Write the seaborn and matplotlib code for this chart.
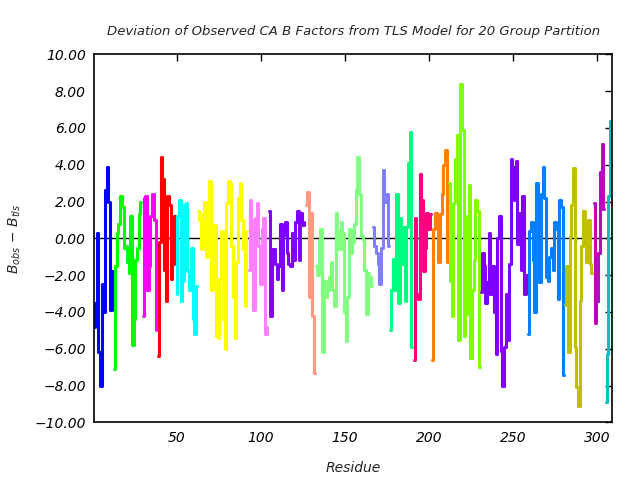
import numpy as np
import pandas as pd
import matplotlib
matplotlib.use("Agg")
import matplotlib.pyplot as plt
import seaborn as sns

# =====================================================
# DATA
# =====================================================

group_colors = [
    "#0000ff", "#00ff00", "#ff00ff", "#ff0000", "#00ffff",
    "#ffff00", "#ff80ff", "#8000ff", "#ff9980", "#80ff80",
    "#8080ff", "#00ff80", "#ff0080", "#ff8000", "#80ff00",
    "#8000ff", "#0080ff", "#c0c000", "#c000c0", "#00c0c0",
]

# first residue of each TLS group
group_starts = [1, 13, 30, 39, 50, 63, 93, 105, 127, 133,
                167, 177, 191, 202, 212, 231, 259, 281, 298, 305]

group_values = [
    [-4.8, -3.5, 0.3, -6.2, -8.0, -2.5, -4.0, 2.6, 3.9, 2.0, -3.9, -1.8],
    [-7.1, -1.5, 0.3, 0.8, 2.3, 1.7, -0.5, -0.4, -1.3, -1.9, 1.2, -5.8, -4.4, -1.2, -0.5, 1.3, 2.0],
    [-4.2, 2.2, 2.3, -2.8, -1.5, 1.2, 2.4, 1.0, -5.0],
    [-6.4, -0.2, 4.4, 3.2, -1.7, -3.4, 2.3, 1.8, -2.2, -1.4, 1.2],
    [-3.0, 1.2, 2.1, -3.4, -2.3, 1.8, 1.9, -1.8, -2.8, -0.5, -4.4, -5.2, -2.6],
    [1.5, 1.0, -0.6, 1.3, 2.0, -1.0, 2.0, 3.1, -2.8, -1.4, 0.7, -5.3, -5.4, -2.2, 0.4,
     -4.4, -6.0, 1.9, 3.1, 3.0, -0.4, -3.2, -5.4, -1.3, 2.2, 3.0, 1.0, -0.6, -3.7, 0.4],
    [-1.7, 2.1, 1.0, -3.9, 1.1, 1.9, -0.4, -2.5, 0.5, 1.1, -5.2, -4.8],
    [1.5, -4.2, -0.6, -0.6, -1.4, -2.2, -1.5, 0.8, -2.8, 0.2, 0.9, -0.8, -1.4, -1.5,
     0.3, -1.2, 0.9, 1.5, -1.2, 1.4, 0.7, 0.9],
    [1.8, 2.5, -3.2, 1.4, -4.2, -7.3],
    [-1.5, -2.0, -0.1, 0.5, -6.2, -2.3, -3.2, -2.8, -2.1, -1.3, -2.8, -3.7, 1.4, 0.4,
     -0.6, 0.9, 0.3, -4.0, -5.6, -3.2, 0.5, -0.8, -0.2, 0.8, 2.6, 4.4, 2.4, 0.1, -0.1,
     -1.7, -4.1, -1.9, -2.1, -2.6],
    [0.6, -0.4, -0.8, -1.4, -2.5, -0.5, 3.7, 2.0, 2.4, -0.4],
    [-5.0, -2.8, -1.1, -2.8, 2.4, -3.5, 1.1, -1.4, 0.6, -3.4, 0.6, 4.1, 5.8, -5.9],
    [-6.6, 1.1, -3.0, -3.3, 3.5, 2.1, -1.8, -0.5, 1.4, 0.5, 1.3],
    [-6.6, 0.5, 1.4, 1.0, -1.3, 1.3, 2.4, 4.0, 4.8, -1.3],
    [3.0, -2.3, -4.2, 1.9, 4.3, 5.6, -5.5, 8.4, 5.9, -5.3, -4.1, 1.2, 2.9, -6.5, -2.8,
     -1.2, 2.1, 1.5, -7.0],
    [-2.9, -0.8, -1.5, -3.5, -2.4, 0.3, -3.0, -1.5, -4.0, -6.3, 0.0, 1.2, -6.1, -8.0,
     -5.9, -3.0, -5.5, -1.4, 4.3, 3.9, 2.1, 4.2, -0.3, 1.4, -1.7, 2.3, -3.0, -2.0],
    [-5.2, 0.4, 0.9, -1.2, -4.0, 3.0, 2.3, -2.4, 2.4, 3.9, 2.2, -2.1, -2.3, -1.0, -0.5,
     -1.7, 0.9, 0.5, -3.3, 2.1, 1.7, -7.4],
    [-3.6, -1.5, -6.2, 0.1, 1.8, 3.8, -5.9, -8.1, -9.1, -3.4, -0.4, 1.5, 0.6, -1.3, 1.0,
     -1.4, -1.9],
    [1.9, -4.6, -3.4, -0.8, 3.6, 5.1, 1.6],
    [-8.9, -6.3, 2.3, 6.4, 1.8],
]

x_ticks = [50, 100, 150, 200, 250, 300]
y_ticks = [-10, -8, -6, -4, -2, 0, 2, 4, 6, 8, 10]

# =====================================================
# BUILD TABLE
# =====================================================

rows = []
for g, (start, vals) in enumerate(zip(group_starts, group_values)):
    for i, v in enumerate(vals):
        rows.append({"residue": start + i, "dev": v, "group": f"g{g}"})
df = pd.DataFrame(rows)
palette = {f"g{g}": c for g, c in enumerate(group_colors)}

# =====================================================
# PLOT
# =====================================================

sns.set_style("white")
plt.rcParams["font.family"] = ["DejaVu Sans"]
plt.rcParams["mathtext.fontset"] = "dejavusans"

fig = plt.figure(figsize=(6.4, 4.8), dpi=100)
ax = fig.add_axes([0.147, 0.12, 0.81, 0.767])

ax.axhline(0, color="black", lw=1.0, zorder=1)
sns.lineplot(data=df, x="residue", y="dev", hue="group", palette=palette,
             drawstyle="steps-mid", lw=2.2, legend=False, estimator=None,
             ax=ax, zorder=2)

ax.set_xlim(1, 309)
ax.set_ylim(-10, 10)
ax.set_xticks(x_ticks)
ax.set_yticks(y_ticks)
ax.set_yticklabels([f"{t:.2f}".replace("-", "\u2212") for t in y_ticks],
                   fontstyle="italic", fontsize=10)
ax.set_xticklabels([str(t) for t in x_ticks], fontstyle="italic", fontsize=10)
ax.tick_params(direction="in", length=5, width=1, top=True, right=True,
               colors="black", pad=6)
for s in ax.spines.values():
    s.set_linewidth(1.2)
    s.set_color("black")

ax.set_xlabel("Residue", fontstyle="italic", fontsize=10, labelpad=12)
ax.set_ylabel(r"$B_{obs}$ $-$ $B_{tls}$", fontsize=10, labelpad=8)
ax.set_title("Deviation of Observed CA B Factors from TLS Model for 20 Group Partition",
             fontstyle="italic", fontsize=9.5, pad=14)

fig.savefig("out.png", dpi=100)
